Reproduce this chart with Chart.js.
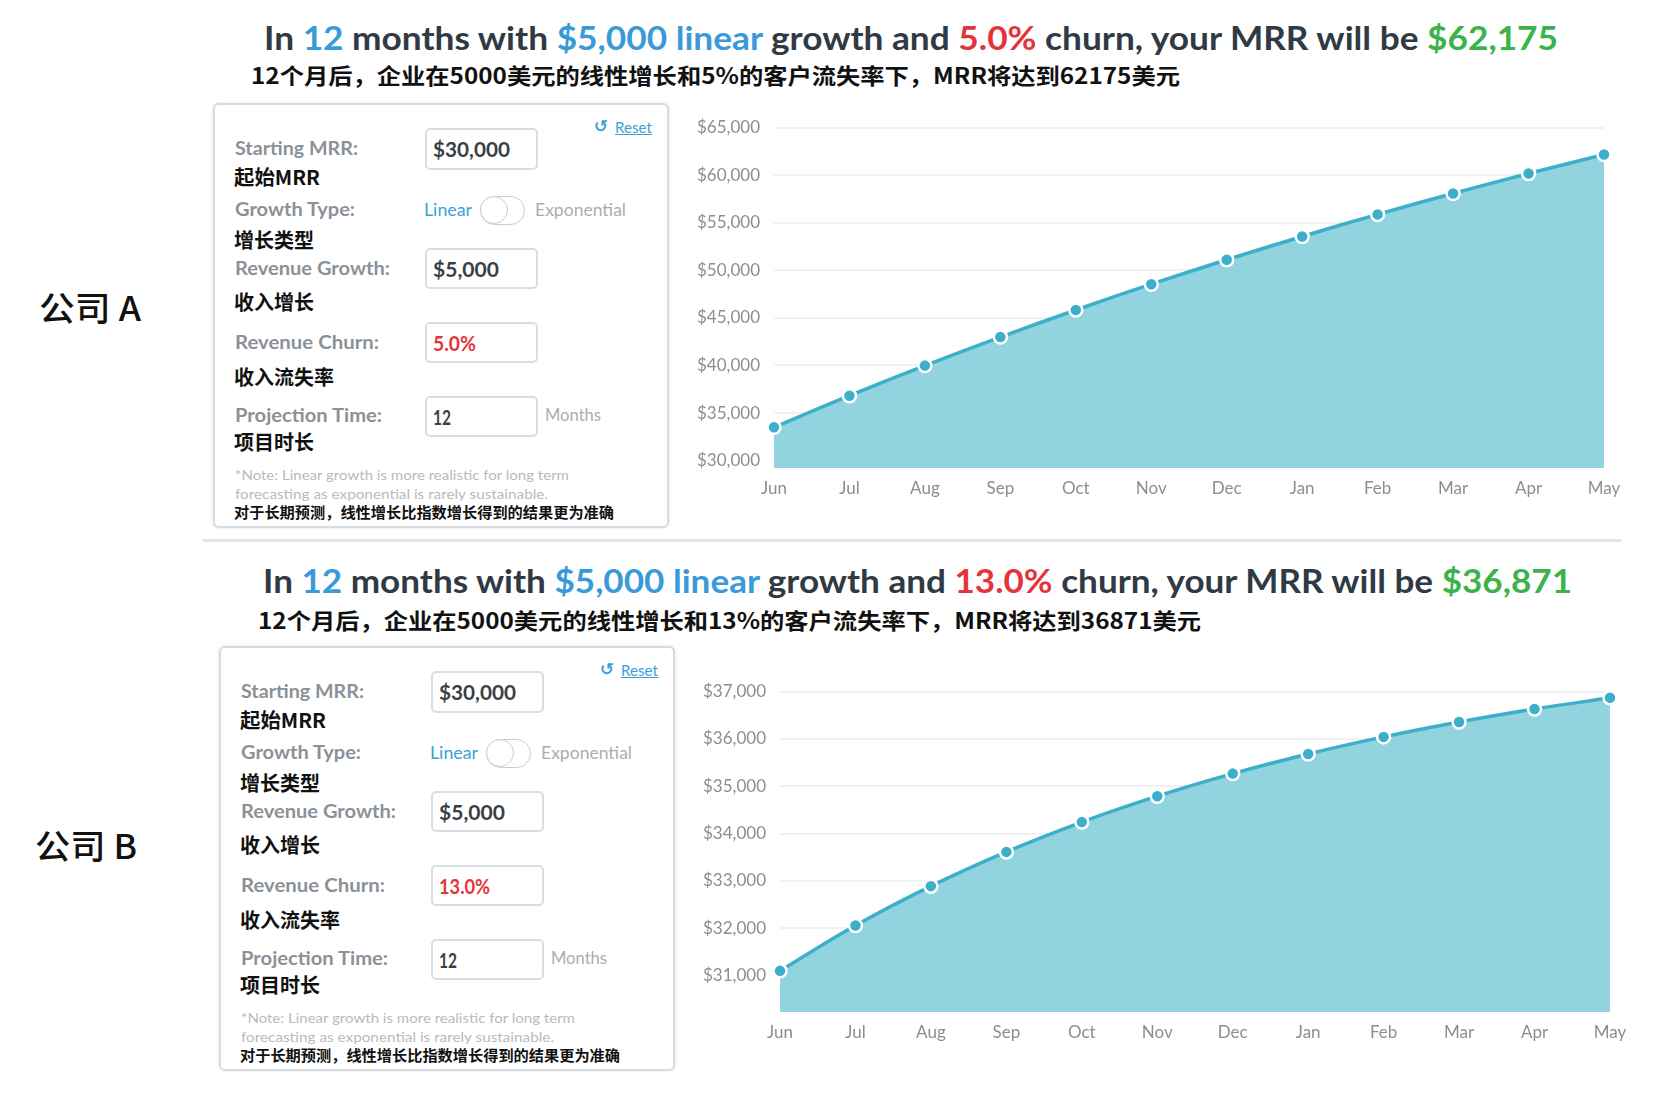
<!DOCTYPE html>
<html>
<head>
<meta charset="utf-8">
<script src="https://cdn.jsdelivr.net/npm/chart.js"></script>
<style>
  html,body{margin:0;padding:0;background:#fff;}
  body{width:1662px;height:1102px;position:relative;overflow:hidden;font-family:Lato,"Open Sans",sans-serif;}
  .t{position:absolute;white-space:nowrap;line-height:1.2;transform-origin:left center;display:inline-block;}
  .title{font-size:33px;font-weight:700;color:#2f3a44;}
  .sub{font-size:22px;font-weight:700;color:#111;font-family:"Noto Sans CJK SC",sans-serif;}
  .side{font-size:34px;font-weight:500;color:#111;font-family:"Noto Sans CJK SC",sans-serif;}
  .lbl{font-size:19px;font-weight:700;color:#8b9198;}
  .cn{font-size:20px;font-weight:700;color:#111;font-family:"Noto Sans CJK SC",sans-serif;}
  .lin{font-size:17px;font-weight:400;color:#3d9fd8;}
  .exp{font-size:17px;font-weight:400;color:#a9aeb4;}
  .note{font-size:14px;font-weight:400;color:#b7bbc0;}
  .cnnote{font-size:15px;font-weight:700;color:#111;font-family:"Noto Sans CJK SC",sans-serif;}
  .inp{font-size:20px;font-weight:700;color:#3a3f45;}
  .reset{font-size:15px;color:#3d9fd8;text-decoration:underline;}
  .icon{font-size:17px;color:#3d9fd8;font-family:"DejaVu Sans",sans-serif;font-weight:700;}
  .b{color:#3a9ad9}.r{color:#e3343c}.g{color:#3cb34a}
  .panel{position:absolute;border:2px solid #d6dce2;border-radius:6px;box-shadow:0 0 3px rgba(150,165,180,.35);background:#fff;}
  .box{position:absolute;border:2px solid #d9dee4;border-radius:5px;background:#fff;}
  .tog{position:absolute;border:1.5px solid #c8cdd3;border-radius:16px;background:#fff;}
  .knob{position:absolute;left:-1px;top:-1px;border:1.5px solid #c8cdd3;border-radius:50%;background:#fff;}
  .sep{position:absolute;background:#e3e5ea;}
  canvas{position:absolute;}
</style>
</head>
<body>
<canvas id="chartA" width="980" height="420" style="left:680px;top:100px;"></canvas>
<canvas id="chartB" width="976" height="400" style="left:686px;top:664px;"></canvas>
<script>
// ---------- data ----------
const months = ['Jun','Jul','Aug','Sep','Oct','Nov','Dec','Jan','Feb','Mar','Apr','May'];
const mrrA = [33500, 36825, 39984, 42985, 45835, 48544, 51116, 53561, 55883, 58088, 60184, 62175];
const mrrB = [31100, 32057, 32890, 33614, 34244, 34792, 35269, 35684, 36045, 36359, 36633, 36871];
const yTicksA = [30000, 35000, 40000, 45000, 50000, 55000, 60000, 65000];
const yTicksB = [31000, 32000, 33000, 34000, 35000, 36000, 37000];
const yRangeA = [29220, 65000];
const yRangeB = [30230, 37000];
const churnA = '5.0%';
const churnB = '13.0%';
const resultA = '$62,175';
const resultB = '$36,871';
const subA = '12个月后，企业在5000美元的线性增长和5%的客户流失率下，MRR将达到62175美元';
const subB = '12个月后，企业在5000美元的线性增长和13%的客户流失率下，MRR将达到36871美元';

// ---------- text helpers ----------
const fits = [];
function addText(html, cls, x, y, w){
  const el = document.createElement('div');
  el.className = 't ' + cls;
  el.innerHTML = html;
  el.style.left = x + 'px';
  el.style.top = y + 'px';
  el.style.transform = 'translateY(-50%)';
  document.body.appendChild(el);
  if (w) fits.push([el, w]);
  return el;
}
function addBox(cls, x, y, w, h){
  const el = document.createElement('div');
  el.className = cls;
  el.style.left = x + 'px'; el.style.top = y + 'px';
  el.style.width = w + 'px'; el.style.height = h + 'px';
  document.body.appendChild(el);
  return el;
}
function runFit(){
  fits.forEach(([el, w]) => {
    el.style.transform = 'translateY(-50%)';
    const nat = el.getBoundingClientRect().width;
    el.style.transform = 'translateY(-50%) scaleX(' + (w / nat) + ')';
  });
}

function titleHtml(churn, result){
  return 'In <span class="b">12</span> months with <span class="b">$5,000 linear</span> growth and <span class="r">' +
    churn + '</span> churn, your MRR will be <span class="g">' + result + '</span>';
}

function panel(ox, oy, churn, churnW){
  addBox('panel', 213 + ox, 103 + oy, 452, 421);
  addText('↺', 'icon', 594 + ox, 126 + oy);
  addText('Reset', 'reset', 615 + ox, 127 + oy, 37);
  const rows = [
    ['Starting MRR:', 'lbl', 148, 123], ['起始MRR', 'cn', 177, 86],
    ['Growth Type:', 'lbl', 209, 120], ['增长类型', 'cn', 240, 80],
    ['Revenue Growth:', 'lbl', 268, 155], ['收入增长', 'cn', 302, 80],
    ['Revenue Churn:', 'lbl', 342, 144], ['收入流失率', 'cn', 377, 100],
    ['Projection Time:', 'lbl', 415, 147], ['项目时长', 'cn', 442, 80]
  ];
  rows.forEach(r => addText(r[0], r[1], (r[1] === 'cn' ? 234 : 235) + ox, r[2] + oy, r[3]));
  const boxes = [[128, 42, '$30,000', 77, ''], [248, 41, '$5,000', 66, ''], [322, 41, churn, churnW, 'r'], [396, 41, '12', 18, '']];
  boxes.forEach(b => {
    addBox('box', 425 + ox, b[0] + oy, 109, b[1] - 4);
    const el = addText(b[2], 'inp' + (b[4] ? ' ' + b[4] : ''), 433 + ox, b[0] + b[1] / 2 + oy, b[3]);
    if (b[4]) el.style.color = '#e3343c';
  });
  addText('Linear', 'lin', 424 + ox, 210 + oy, 48);
  const tog = addBox('tog', 480 + ox, 196 + oy, 43, 27);
  const k = document.createElement('div'); k.className = 'knob';
  k.style.width = '26px'; k.style.height = '26px'; tog.appendChild(k);
  addText('Exponential', 'exp', 535 + ox, 210 + oy, 91);
  addText('Months', 'exp', 545 + ox, 415 + oy, 56);
  addText('*Note: Linear growth is more realistic for long term', 'note', 235 + ox, 475 + oy, 334);
  addText('forecasting as exponential is rarely sustainable.', 'note', 235 + ox, 494 + oy, 313);
  addText('对于长期预测，线性增长比指数增长得到的结果更为准确', 'cnnote', 234 + ox, 512 + oy, 380);
}

// Section A
addText(titleHtml(churnA, resultA), 'title', 264, 38, 1294);
addText(subA, 'sub', 251, 74, 929);
addText('公司 A', 'side', 39, 307, 102);
panel(0, 0, churnA, 43);
// separator
addBox('sep', 203, 539, 1419, 3);
// Section B
addText(titleHtml(churnB, resultB), 'title', 263, 581, 1309);
addText(subB, 'sub', 258, 619, 943);
addText('公司 B', 'side', 35, 845, 102);
panel(6, 543, churnB, 51);

runFit();
if (document.fonts && document.fonts.ready) document.fonts.ready.then(runFit);

// ---------- charts ----------
Chart.defaults.font.family = 'Lato, "Open Sans", sans-serif';
const lineColor = '#3eafca';
const fillColor = '#92d3e0';
const tickColor = '#8a8e94';

function makeChart(id, values, yTicks, yRange, rightPad){
  return new Chart(document.getElementById(id), {
    type: 'line',
    data: {
      labels: months,
      datasets: [{
        data: values,
        borderColor: lineColor,
        backgroundColor: fillColor,
        borderWidth: 3.5,
        fill: 'start',
        tension: 0.4,
        pointRadius: 6.5,
        pointBackgroundColor: lineColor,
        pointBorderColor: '#ffffff',
        pointBorderWidth: 2.5,
        clip: 14
      }]
    },
    options: {
      responsive: false,
      animation: false,
      layout: { padding: { top: 27.7, right: rightPad, bottom: 12, left: 0 } },
      plugins: { legend: { display: false }, tooltip: { enabled: false } },
      scales: {
        x: {
          grid: { display: false, drawTicks: false },
          border: { display: false },
          ticks: { color: tickColor, font: { size: 17 }, padding: 10, maxRotation: 0, autoSkip: false },
          afterFit: s => { s.height = 40; }
        },
        y: {
          min: yRange[0],
          max: yRange[1],
          grid: { color: '#eff1f5', lineWidth: 2, drawTicks: false },
          border: { display: false },
          ticks: {
            color: tickColor, font: { size: 17 }, padding: 14,
            callback: v => '$' + Number(v).toLocaleString('en-US')
          },
          afterBuildTicks: s => { s.ticks = yTicks.map(v => ({ value: v })); },
          afterFit: s => { s.width = 94; }
        }
      }
    }
  });
}
makeChart('chartA', mrrA, yTicksA, yRangeA, 56);
makeChart('chartB', mrrB, yTicksB, yRangeB, 52);
</script>
</body>
</html>
